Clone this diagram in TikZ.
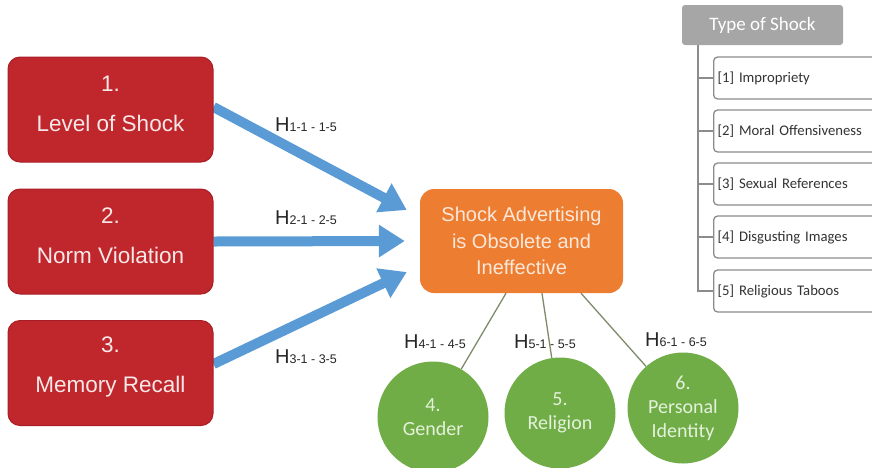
\documentclass[tikz,border=0pt]{standalone}
\usepackage{fontspec}
\setmainfont{Liberation Sans}
\newfontfamily\carlito{Carlito}
\usetikzlibrary{arrows.meta,calc,backgrounds}
\definecolor{redfill}{HTML}{C0272D}
\definecolor{redborder}{HTML}{A81E24}
\definecolor{redtxt}{HTML}{F7E8E8}
\definecolor{orangefill}{HTML}{ED7D31}
\definecolor{orangetxt}{HTML}{FCE8DA}
\definecolor{greenfill}{HTML}{70AD47}
\definecolor{greentxt}{HTML}{E4F1DB}
\definecolor{arrowblue}{HTML}{5B9BD5}
\definecolor{olive}{HTML}{7E8B6A}
\definecolor{hdrgray}{HTML}{A6A6A6}
\definecolor{treegray}{HTML}{8C8C8C}
\definecolor{itemtxt}{HTML}{333333}
\newcommand\hyplab[1]{{\fontsize{20}{20}\selectfont H}{\fontsize{12.5}{12.5}\selectfont #1}}
\begin{document}
\begin{tikzpicture}[x=1pt,y=-1pt,
  redbox/.style={draw=redborder, line width=1pt, fill=redfill, rounded corners=12pt,
    minimum width=205pt, minimum height=105pt, inner sep=0pt},
  redtext/.style={text=redtxt, align=center, font=\fontsize{22.5}{40}\selectfont, inner sep=0pt},
  orangebox/.style={fill=orangefill, rounded corners=14pt, minimum width=203pt, minimum height=104pt,
    inner sep=0pt, text=orangetxt, align=center, font=\fontsize{20}{26.5}\selectfont},
  greencirc/.style={circle, fill=greenfill, minimum size=111pt, inner sep=0pt, text=greentxt,
    align=center, font=\carlito\fontsize{20}{24}\selectfont},
  bluearrow/.style={draw=arrowblue, line width=10pt, -{Triangle[width=31pt,length=26pt]}},
  oliveline/.style={draw=olive, line width=1.3pt},
  hlabel/.style={inner sep=0pt, text=black!85},
  hdrbox/.style={fill=hdrgray, rounded corners=3pt, minimum width=161pt, minimum height=40pt,
    inner sep=0pt, text=white, font=\carlito\fontsize{19}{19}\selectfont},
  itembox/.style={draw=treegray, line width=1.3pt, fill=white, rounded corners=4pt, anchor=west,
    minimum height=42pt, inner xsep=4pt, inner ysep=0pt, text width=172pt, align=left,
    text=itemtxt, font=\carlito\fontsize{14.7}{14.7}\selectfont},
  treeline/.style={draw=treegray, line width=1.5pt}
]
\useasboundingbox (0,0) rectangle (872,467);

% left boxes
\node[redbox] (r1) at (110.5,109.5) {};
\node[redtext] (r1t) at ($(r1.center)+(0,-6)$) {1.\\Level of Shock};
\node[redbox] (r2) at (110.5,241.5) {};
\node[redtext] (r2t) at ($(r2.center)+(0,-6)$) {2.\\Norm Violation};
\node[redbox] (r3) at (110.5,373) {};
\node[redtext] (r3t) at ($(r3.center)+(0,-6)$) {3.\\Memory Recall};

% central box
\node[orangebox] (o) at (521.5,241) {Shock Advertising\\is Obsolete and\\Ineffective};

% arrows
\begin{scope}[on background layer]
\draw[bluearrow] ($(r1.east)+(0,-2.5)$) -- ($(o.west)+(-13,-31)$);
\draw[bluearrow] (r2.east) -- ($(o.west)+(-15,0)$);
\draw[bluearrow] ($(r3.east)+(0,-9)$) -- ($(o.west)+(-13,31)$);
\end{scope}

\node[hlabel] (h1) at (306,125) {\hyplab{1-1 - 1-5}};
\node[hlabel] (h2) at (306,218) {\hyplab{2-1 - 2-5}};
\node[hlabel] (h3) at (306,357) {\hyplab{3-1 - 3-5}};

% circles
\node[greencirc] (c4) at (433,417) {4.\\Gender};
\node[greencirc] (c5) at (560,413) {5.\\Religion};
\node[greencirc] (c6) at (683,408) {6.\\Personal\\Identity};

\draw[oliveline] ($(o.south)+(-15.5,0)$) -- (c4);
\draw[oliveline] ($(o.south)+(20.5,0)$) -- (c5);
\draw[oliveline] ($(o.south)+(59.5,0)$) -- (c6);

\node[hlabel] (h4) at (435,342) {\hyplab{4-1 - 4-5}};
\node[hlabel] (h5) at (545,342) {\hyplab{5-1 - 5-5}};
\node[hlabel] (h6) at (676,340) {\hyplab{6-1 - 6-5}};

% right panel
\node[hdrbox] (hdr) at (762.5,25) {Type of Shock};
\begin{scope}
\clip (0,0) rectangle (872,467);
\node[itembox] (i1) at (713,78) {[1] Impropriety};
\node[itembox] (i2) at (713,131) {[2] Moral Offensiveness};
\node[itembox] (i3) at (713,184) {[3] Sexual References};
\node[itembox] (i4) at (713,237) {[4] Disgusting Images};
\node[itembox] (i5) at (713,291) {[5] Religious Taboos};
\end{scope}
\coordinate (trunk) at (698,45);
\draw[treeline] (trunk) |- (i5.west);
\draw[treeline] (trunk |- i1.west) -- (i1.west);
\draw[treeline] (trunk |- i2.west) -- (i2.west);
\draw[treeline] (trunk |- i3.west) -- (i3.west);
\draw[treeline] (trunk |- i4.west) -- (i4.west);
\end{tikzpicture}
\end{document}
